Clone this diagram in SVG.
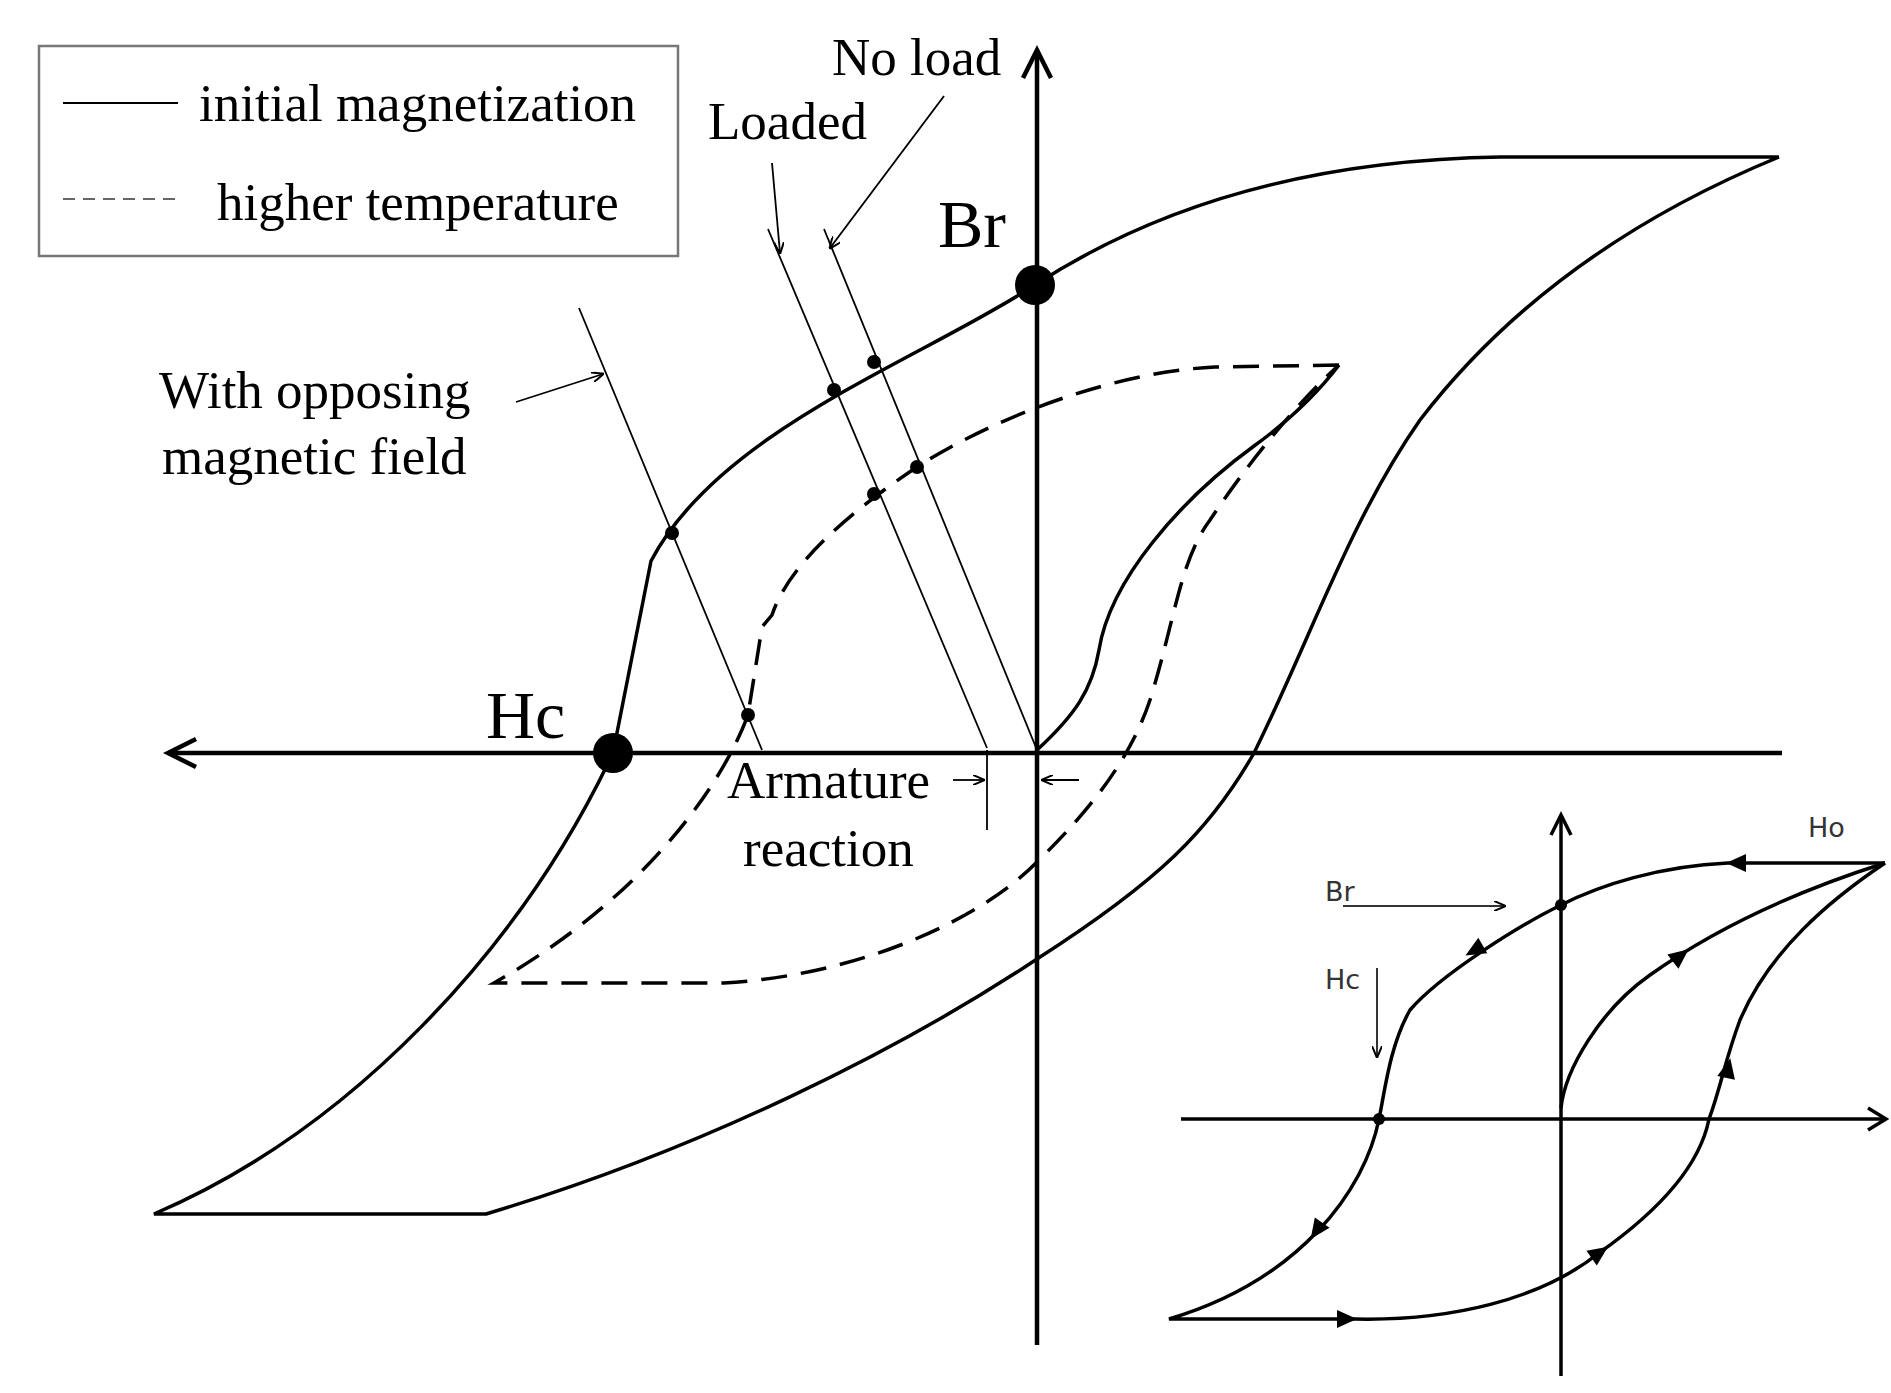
<svg xmlns="http://www.w3.org/2000/svg" width="1891" height="1393" viewBox="0 0 1891 1393">
<style>
.c{fill:none;stroke:#000;stroke-width:3.5}
.d{fill:none;stroke:#000;stroke-width:3.5;stroke-dasharray:26 14}
.t{fill:none;stroke:#000;stroke-width:1.8}
.ax{fill:none;stroke:#000;stroke-width:4.5}
.s{font-family:"Liberation Serif",serif;font-size:53px;fill:#000}
.b{font-family:"Liberation Serif",serif;font-size:68px;fill:#000}
.i{font-family:"DejaVu Sans","Liberation Sans",sans-serif;font-size:27px;fill:#333}
</style>
<defs>
<marker id="a" markerWidth="12" markerHeight="10" refX="11" refY="5" orient="auto" markerUnits="userSpaceOnUse"><path d="M0,0 L12,5 L0,10" fill="none" stroke="#000" stroke-width="2"/></marker>
<path id="tri" d="M11,0 L-9,-9 L-9,9 Z" fill="#000"/>
</defs>
<rect width="1891" height="1393" fill="#fff"/>
<g id="legend">
<rect x="39" y="46" width="639" height="210" fill="none" stroke="#777" stroke-width="2.5"/>
<line x1="63" y1="103" x2="178" y2="103" stroke="#000" stroke-width="2"/>
<text class="s" x="199" y="121">initial magnetization</text>
<line x1="63" y1="199" x2="178" y2="199" stroke="#666" stroke-width="2" stroke-dasharray="12 8"/>
<text class="s" x="217" y="220">higher temperature</text>
</g>
<g id="axes">
<line class="ax" x1="1037" y1="1345" x2="1037" y2="52"/>
<path class="ax" d="M1023,78 L1037,50 L1051,78"/>
<line class="ax" x1="1782" y1="753" x2="168" y2="753"/>
<path class="ax" d="M196,739 L168,753 L196,767"/>
</g>
<g id="curves">
<path class="c" d="M1779,157 L1501,157 C1300,160 1150,210 1035,285 S720,430 651,561 L613,753 C520,950 350,1130 154,1214 L486,1214 C700,1150 900,1050 1037,959 C1160,880 1210,830 1254,753 C1310,640 1350,520 1420,420 C1520,290 1650,210 1779,157"/>
<path class="c" d="M1037,750 C1075,715 1092,690 1099,650 C1110,580 1180,500 1254,446 C1290,420 1320,390 1339,365"/>
<path class="d" d="M1339,365 L1215,367 C1110,372 990,420 917,467 C860,505 790,560 772,615 L762,627 L748,715 C720,790 640,900 494,983 L724,983 C860,975 980,920 1037,862 C1090,810 1130,760 1150,700 C1175,620 1180,560 1210,520 C1250,460 1300,400 1339,365"/>
</g>
<g id="loadlines">
<line class="t" x1="579" y1="308" x2="762" y2="750"/>
<line class="t" x1="768" y1="229" x2="987" y2="748"/>
<line class="t" x1="824" y1="229" x2="1037" y2="750"/>
<line class="t" x1="987" y1="750" x2="987" y2="830"/>
</g>
<g id="points" fill="#000">
<circle cx="1035" cy="285" r="20"/>
<circle cx="613" cy="753" r="20"/>
<circle cx="672" cy="533" r="7"/>
<circle cx="748" cy="715" r="7"/>
<circle cx="834" cy="390" r="7"/>
<circle cx="874" cy="362" r="7"/>
<circle cx="874" cy="494" r="7"/>
<circle cx="917" cy="467" r="7"/>
</g>
<g id="labels">
<text class="b" x="938" y="247">Br</text>
<text class="b" x="486" y="738">Hc</text>
<text class="s" x="832" y="75">No load</text>
<text class="s" x="708" y="139">Loaded</text>
<text class="s" x="159" y="408">With opposing</text>
<text class="s" x="162" y="474">magnetic field</text>
<text class="s" x="727" y="798">Armature</text>
<text class="s" x="743" y="866">reaction</text>
</g>
<g id="connectors" class="t" marker-end="url(#a)">
<line x1="772" y1="163" x2="780" y2="253"/>
<line x1="944" y1="96" x2="830" y2="248"/>
<line x1="516" y1="402" x2="603" y2="374"/>
<line x1="953" y1="780" x2="984" y2="780"/>
<line x1="1079" y1="780" x2="1042" y2="780"/>
</g>
<g id="inset">
<line class="c" x1="1561" y1="1376" x2="1561" y2="817"/>
<path class="c" d="M1551,835 L1561,815 L1571,835"/>
<line class="c" x1="1181" y1="1119" x2="1886" y2="1119"/>
<path class="c" d="M1868,1108 L1886,1119 L1868,1130"/>
<path class="c" d="M1885,863 L1728,863 C1660,866 1600,885 1561,905 C1520,925 1440,975 1410,1010 C1390,1045 1385,1090 1379,1119 C1365,1190 1300,1280 1169,1319 L1355,1319 C1450,1321 1540,1300 1599,1253 C1660,1210 1700,1165 1709,1119 C1720,1090 1725,1060 1740,1020 C1770,950 1830,900 1885,863"/>
<path class="c" d="M1561,1108 C1565,1070 1600,1010 1650,975 C1720,925 1800,890 1885,863"/>
<use href="#tri" transform="translate(1737,863) rotate(180)"/>
<use href="#tri" transform="translate(1475,950) rotate(150)"/>
<use href="#tri" transform="translate(1317,1230) rotate(125)"/>
<use href="#tri" transform="translate(1346,1319)"/>
<use href="#tri" transform="translate(1599,1253) rotate(-35)"/>
<use href="#tri" transform="translate(1728,1069) rotate(-78)"/>
<use href="#tri" transform="translate(1680,956) rotate(-38)"/>
<circle cx="1561" cy="905" r="6"/>
<circle cx="1379" cy="1119" r="6"/>
<text class="i" x="1325" y="901">Br</text>
<text class="i" x="1325" y="989">Hc</text>
<text class="i" x="1808" y="837">Ho</text>
<line x1="1343" y1="906" x2="1505" y2="906" stroke="#333" stroke-width="2" marker-end="url(#a)"/>
<line x1="1377" y1="968" x2="1377" y2="1057" stroke="#333" stroke-width="2" marker-end="url(#a)"/>
</g>
</svg>
